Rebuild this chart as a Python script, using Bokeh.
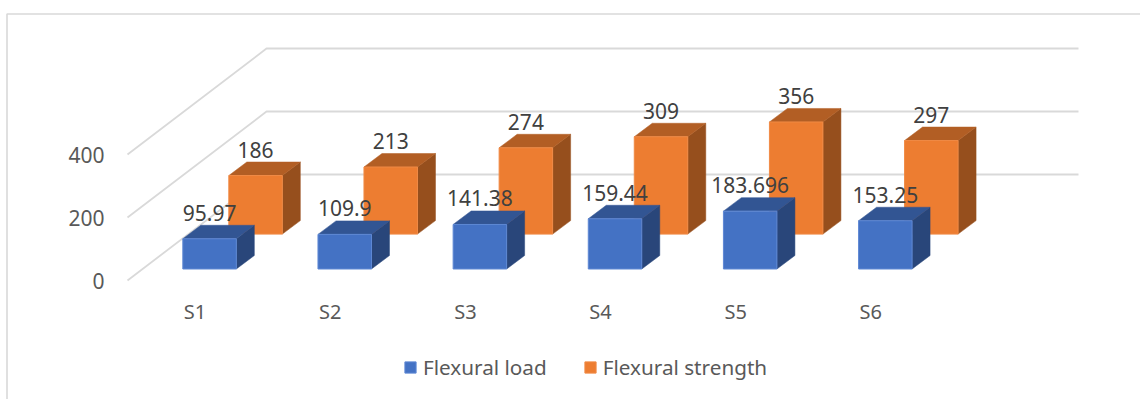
from bokeh.embed import file_html
from bokeh.resources import INLINE
from bokeh.core.properties import value
from bokeh.models import (BoxAnnotation, ColumnDataSource, FixedTicker, Legend,
                          LegendItem, Range1d)
from bokeh.plotting import figure

categories = ["S1", "S2", "S3", "S4", "S5", "S6"]
flexural_load = [95.97, 109.9, 141.38, 159.44, 183.696, 153.25]
flexural_strength = [186, 213, 274, 309, 356, 297]
value_ticks = [0, 200, 400]

FONT = "Noto Sans"
WIDTH, HEIGHT = 1140, 399
ORIGIN_X, ORIGIN_Y = 127, 280
PX_PER_CATEGORY = 135.15
PX_PER_VALUE = 0.315

# Oblique projection, expressed in data units of the two axes.
def px_x(px):
    return px / PX_PER_CATEGORY


def px_y(px):
    return px / PX_PER_VALUE


FLOOR_DX, FLOOR_DY = px_x(139), px_y(106)
GRID_END = px_x(1078 - ORIGIN_X) - FLOOR_DX
BAR_W = px_x(53.5)
BOX_DX, BOX_DY = px_x(18), px_y(13.5)

# The frame fills the page; axis labels are pulled inward with negative standoffs.
p = figure(
    width=WIDTH, height=HEIGHT, output_backend="svg", toolbar_location=None,
    x_range=Range1d(0.5 + px_x(-ORIGIN_X), 0.5 + px_x(WIDTH - ORIGIN_X)),
    y_range=Range1d(px_y(ORIGIN_Y - HEIGHT), px_y(ORIGIN_Y)),
    min_border_left=0, min_border_right=0, min_border_top=0, min_border_bottom=0,
    outline_line_color=None, background_fill_color="white",
)
p.grid.visible = False

for axis in (p.xaxis[0], p.yaxis[0]):
    axis.axis_line_color = None
    axis.major_tick_line_color = None
    axis.minor_tick_line_color = None
    axis.major_tick_out = 0
    axis.major_tick_in = 0
    axis.major_label_text_color = "#595959"
    axis.major_label_text_font = FONT
p.yaxis[0].major_label_text_font_size = "21px"
p.yaxis[0].major_label_standoff = -104
p.yaxis[0].ticker = FixedTicker(ticks=value_ticks)
p.xaxis[0].major_label_text_font_size = "20px"
p.xaxis[0].major_label_standoff = -102
p.xaxis[0].ticker = FixedTicker(ticks=list(range(1, len(categories) + 1)))
p.xaxis[0].major_label_overrides = {i + 1: c for i, c in enumerate(categories)}

# Chart-area edge: only the top and left sides fall inside the page.
# Screen offsets here count from the frame's lower-left corner.
p.add_layout(BoxAnnotation(
    left=6.5, right=WIDTH + 20, top=HEIGHT - 13.5, bottom=-20,
    left_units="screen", right_units="screen", top_units="screen", bottom_units="screen",
    fill_color=None, line_color="#D9D9D9", line_alpha=1, line_width=1.6, level="annotation",
))

# Side wall and back wall gridlines.
p.multi_line(
    xs=[[0.5, 0.5 + FLOOR_DX, 0.5 + FLOOR_DX + GRID_END] for _ in value_ticks],
    ys=[[v, v + FLOOR_DY, v + FLOOR_DY] for v in value_ticks],
    line_color="#D9D9D9", line_width=1.8,
)


def draw_boxes(values, shift_px_x, shift_px_y, front, top, side, edge):
    n = len(values)
    left = [i + 1 + px_x(shift_px_x) - BAR_W / 2 for i in range(n)]
    base = px_y(shift_px_y)
    tops = [base + v for v in values]
    right = [l + BAR_W for l in left]
    p.patches(
        xs=[[r, r + BOX_DX, r + BOX_DX, r] for r in right],
        ys=[[base, base + BOX_DY, t + BOX_DY, t] for t in tops],
        fill_color=side, line_color=side, line_width=0.5,
    )
    p.patches(
        xs=[[l, r, r + BOX_DX, l + BOX_DX] for l, r in zip(left, right)],
        ys=[[t, t, t + BOX_DY, t + BOX_DY] for t in tops],
        fill_color=top, line_color=top, line_width=0.5,
    )
    fronts = p.quad(left=left, right=right, bottom=base, top=tops,
                    fill_color=front, line_color=edge, line_width=1)
    return left, tops, fronts


strength_left, strength_tops, strength_fronts = draw_boxes(
    flexural_strength, 60.5, 46.4, "#ED7D31", "#B25E24", "#964F1D", "#F08A45")
load_left, load_tops, load_fronts = draw_boxes(
    flexural_load, 14.5, 11.5, "#4472C4", "#325593", "#29467A", "#5E88D4")

# Value labels above each box.
for left, tops, values in ((strength_left, strength_tops, flexural_strength),
                           (load_left, load_tops, flexural_load)):
    p.text(
        source=ColumnDataSource(dict(
            x=[l + BAR_W / 2 for l in left], y=tops, label=[str(v) for v in values])),
        x="x", y="y", text="label", y_offset=-26,
        text_align="center", text_baseline="middle",
        text_color="#404040", text_font=value(FONT), text_font_size="21px",
    )

legend = Legend(
    items=[LegendItem(label="Flexural load", renderers=[load_fronts]),
           LegendItem(label="Flexural strength", renderers=[strength_fronts])],
    orientation="horizontal", location=(403, 18), border_line_color=None,
    background_fill_alpha=0, glyph_width=14, glyph_height=14, label_standoff=6,
    spacing=36, margin=0, padding=0, level="overlay",
    label_text_font=FONT, label_text_font_size="20.7px", label_text_color="#595959",
)
p.add_layout(legend, "center")

open("out.html", "w").write(file_html(p, INLINE))
